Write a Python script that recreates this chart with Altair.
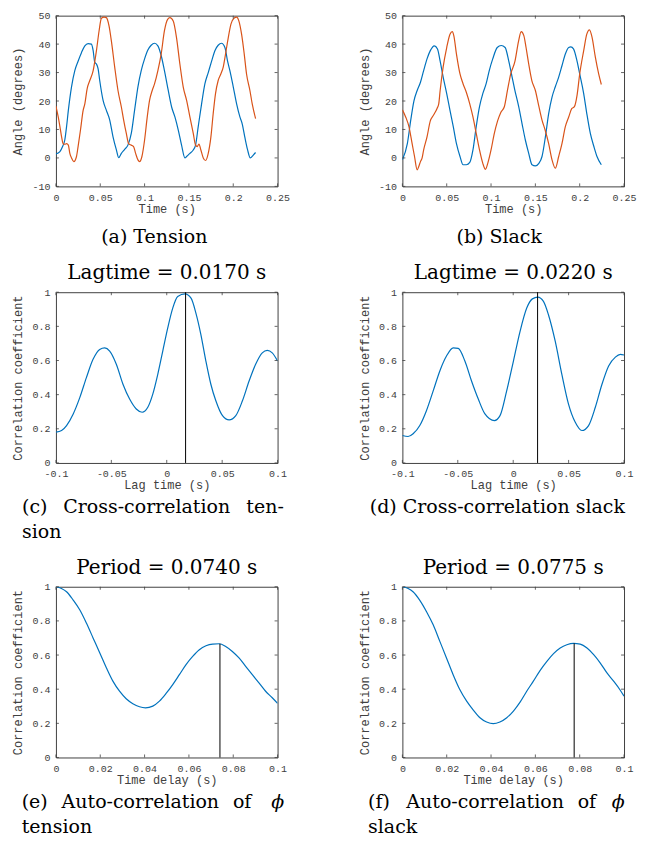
import altair as alt
import pandas as pd

W, H = 222, 171
BLUE = "#0072BD"
ORANGE = "#D95319"
AXIS_FONT = "Liberation Mono"
TEXT_FONT = "DejaVu Serif"
AXIS_COLOR = "#404040"

# ---------------- data ----------------
TENSION_PHI = [(0.0, 1.4), (0.0045, 2.2), (0.0075, 4), (0.010, 6.3), (0.012, 11), (0.014, 16.7),
               (0.0176, 25), (0.0213, 30.7), (0.025, 34), (0.0288, 37), (0.0326, 39.4), (0.0363, 40.2),
               (0.040, 40), (0.042, 37.7), (0.0438, 33.6), (0.0457, 33), (0.0476, 31.3), (0.0494, 27.2),
               (0.0532, 20.2), (0.0569, 16.7), (0.0607, 13.3), (0.0644, 7.4), (0.0682, 2.8), (0.0708, 0.1),
               (0.0738, 1.6), (0.0775, 3), (0.0812, 4.5), (0.085, 8.6), (0.0887, 16.7), (0.0925, 25),
               (0.0962, 30.7), (0.1, 34.8), (0.1037, 37.9), (0.1074, 39.6), (0.1112, 40.3), (0.115, 39.4),
               (0.1187, 36), (0.1224, 30.7), (0.1267, 23.7), (0.1305, 17.9), (0.1342, 14.4), (0.138, 9.8),
               (0.1417, 4.5), (0.1455, 0), (0.1474, 0.5), (0.1511, 1.6), (0.1549, 2.8), (0.1575, 4.5),
               (0.1605, 11), (0.1643, 19), (0.168, 26), (0.1718, 30), (0.1756, 34), (0.1793, 37.7),
               (0.183, 39.6), (0.1868, 40.3), (0.1906, 38.8), (0.1936, 34), (0.1962, 30.7), (0.2, 25),
               (0.2038, 19), (0.2075, 14.4), (0.2101, 12), (0.213, 7.4), (0.2162, 2.8), (0.2192, 0),
               (0.2226, 1), (0.2252, 1.9)]
TENSION_THETA = [(0.0, 18.2), (0.0026, 14.4), (0.0045, 11), (0.0064, 7.4), (0.0082, 5), (0.010, 4.8),
                 (0.012, 5), (0.014, 4.5), (0.0157, 1.6), (0.0176, 0), (0.0202, -1.3), (0.0232, 0.5),
                 (0.025, 4), (0.0277, 9.8), (0.0307, 16.7), (0.0326, 19), (0.0352, 24.3), (0.0382, 27.2),
                 (0.042, 30.7), (0.0457, 37.7), (0.0487, 44.7), (0.0513, 49.1), (0.0543, 49.5),
                 (0.0569, 49.3), (0.0599, 46.4), (0.0625, 41.2), (0.0663, 31.9), (0.07, 23.7),
                 (0.0738, 17.9), (0.0764, 13.3), (0.0794, 8.6), (0.082, 5), (0.085, 4.5), (0.0876, 4),
                 (0.0899, 1.6), (0.0925, -0.7), (0.0944, -1.3), (0.097, 0.5), (0.1, 6.3), (0.103, 14.4),
                 (0.1056, 20.2), (0.1086, 23.7), (0.1112, 26), (0.115, 30.7), (0.1187, 36.5),
                 (0.1224, 44.7), (0.126, 48.7), (0.1286, 49.3), (0.1323, 48.1), (0.136, 42.3),
                 (0.1398, 33), (0.1436, 24.9), (0.1474, 20.2), (0.1511, 14.4), (0.1549, 8.6),
                 (0.1575, 4.5), (0.1594, 4), (0.1613, 4.9), (0.1635, 2.8), (0.1662, 0), (0.1688, -0.9),
                 (0.1718, 1.6), (0.1748, 7.4), (0.1774, 15.6), (0.18, 22.6), (0.183, 27.2), (0.186, 29.5),
                 (0.1887, 31.9), (0.1913, 36.5), (0.1944, 42.3), (0.1974, 47), (0.2008, 49.1),
                 (0.2038, 49.5), (0.2064, 48.1), (0.2094, 43.5), (0.2124, 36.5), (0.215, 29.5),
                 (0.2188, 23.7), (0.2214, 19), (0.2252, 13.8)]
SLACK_PHI = [(0.0, -0.6), (0.0056, 5), (0.0093, 13), (0.013, 20), (0.0167, 23.7), (0.0204, 26.6),
             (0.024, 30.7), (0.0278, 34.8), (0.0315, 37.7), (0.036, 39.4), (0.0396, 38.3), (0.0426, 34),
             (0.046, 28.4), (0.05, 22.6), (0.0537, 16.7), (0.0574, 11), (0.061, 5), (0.065, 0.5),
             (0.0685, -2.4), (0.0722, -2.4), (0.076, -1.6), (0.0796, 2.8), (0.0833, 11), (0.087, 18),
             (0.0907, 22.6), (0.0944, 26), (0.098, 30.7), (0.1019, 34.8), (0.107, 38.8), (0.1115, 39.5),
             (0.1159, 38.8), (0.12, 34), (0.1237, 28.5), (0.1267, 24), (0.1312, 18), (0.135, 12),
             (0.1387, 6.3), (0.1425, 1.6), (0.1462, -2.4), (0.15, -2.8), (0.1537, -2), (0.1575, 0.5),
             (0.1613, 7.4), (0.165, 15.6), (0.1688, 21.4), (0.1725, 25), (0.1763, 28.4), (0.18, 32.4),
             (0.1838, 36.5), (0.1876, 38.8), (0.19, 39), (0.193, 38.3), (0.197, 34), (0.2, 29.5),
             (0.2045, 22.6), (0.208, 15.6), (0.212, 8.6), (0.216, 4), (0.2195, 0.5), (0.2244, -2.4)]
SLACK_THETA = [(0.0, 16.9), (0.0037, 14.4), (0.0074, 11), (0.011, 5), (0.0137, 0.5), (0.0167, -4.2),
               (0.0185, -3), (0.0204, -1.3), (0.0222, -0.1), (0.024, 2.8), (0.0278, 7.4), (0.0315, 13),
               (0.035, 15), (0.039, 17.3), (0.041, 19), (0.0426, 23.7), (0.046, 32), (0.05, 38.8),
               (0.0537, 43.5), (0.0563, 44.4), (0.058, 43), (0.061, 36.5), (0.065, 29.5), (0.0685, 26),
               (0.0722, 23), (0.076, 19), (0.0796, 14.4), (0.0833, 8.6), (0.087, 2.8), (0.0907, -1.9),
               (0.0937, -4), (0.0963, -1.9), (0.1, 2.8), (0.1037, 8.6), (0.1074, 13), (0.111, 16),
               (0.115, 18), (0.1185, 23.7), (0.1222, 29.5), (0.127, 34), (0.131, 41), (0.134, 44.4),
               (0.137, 43), (0.1395, 38.8), (0.1425, 33), (0.146, 27.2), (0.15, 23.7), (0.1537, 18.5),
               (0.1575, 13.3), (0.161, 9.8), (0.165, 5), (0.1688, -0.7), (0.1725, -3.6), (0.1763, 0.5),
               (0.18, 5), (0.1838, 11), (0.1876, 14.4), (0.191, 17.3), (0.194, 18), (0.197, 22),
               (0.2, 29.5), (0.2045, 37.7), (0.208, 43.5), (0.211, 45), (0.214, 42.3), (0.2177, 35.3),
               (0.2214, 29.5), (0.2244, 25.8)]
XCORR_TENSION = [(-0.1, 0.18), (-0.0949, 0.19), (-0.0904, 0.219), (-0.0844, 0.287), (-0.0784, 0.384),
                 (-0.0725, 0.5), (-0.0665, 0.607), (-0.0605, 0.665), (-0.056, 0.674), (-0.0515, 0.655),
                 (-0.0455, 0.578), (-0.0395, 0.461), (-0.0335, 0.374), (-0.0275, 0.316), (-0.0222, 0.297),
                 (-0.0171, 0.326), (-0.0126, 0.403), (-0.0081, 0.519), (-0.0036, 0.655), (0.0009, 0.791),
                 (0.0054, 0.907), (0.0099, 0.975), (0.0165, 0.99), (0.0219, 0.965), (0.0263, 0.878),
                 (0.0308, 0.752), (0.0353, 0.597), (0.0398, 0.461), (0.0443, 0.364), (0.0503, 0.277),
                 (0.0563, 0.252), (0.0623, 0.277), (0.0683, 0.364), (0.0743, 0.48), (0.0802, 0.578),
                 (0.0862, 0.645), (0.0907, 0.659), (0.0952, 0.645), (0.1, 0.597)]
XCORR_SLACK = [(-0.1, 0.161), (-0.0949, 0.155), (-0.0903, 0.171), (-0.0843, 0.219), (-0.0783, 0.306),
               (-0.0722, 0.422), (-0.0662, 0.539), (-0.0602, 0.626), (-0.0541, 0.674), (-0.0496, 0.671),
               (-0.0436, 0.597), (-0.0376, 0.48), (-0.0315, 0.374), (-0.0255, 0.287), (-0.017, 0.248),
               (-0.0119, 0.277), (-0.0059, 0.422), (0.0002, 0.597), (0.0062, 0.771), (0.0122, 0.907),
               (0.0173, 0.961), (0.0222, 0.971), (0.0273, 0.946), (0.0318, 0.868), (0.0379, 0.713),
               (0.0439, 0.519), (0.0499, 0.345), (0.056, 0.238), (0.062, 0.19), (0.068, 0.219),
               (0.0741, 0.326), (0.0801, 0.461), (0.0861, 0.568), (0.0922, 0.62), (0.0967, 0.636),
               (0.1, 0.632)]
ACORR_TENSION = [(0.0, 1.0), (0.0025, 0.99), (0.0048, 0.971), (0.0078, 0.922), (0.0108, 0.864),
                 (0.0138, 0.786), (0.0168, 0.699), (0.0198, 0.612), (0.0228, 0.524), (0.0257, 0.447),
                 (0.0287, 0.388), (0.0317, 0.344), (0.0347, 0.315), (0.0377, 0.297), (0.0404, 0.291),
                 (0.0437, 0.301), (0.0467, 0.33), (0.0497, 0.375), (0.0527, 0.427), (0.0557, 0.485),
                 (0.0587, 0.544), (0.0617, 0.592), (0.0647, 0.631), (0.0677, 0.654), (0.0707, 0.664),
                 (0.0737, 0.666), (0.0766, 0.65), (0.0796, 0.621), (0.0826, 0.583), (0.0856, 0.534),
                 (0.0886, 0.485), (0.0916, 0.437), (0.0946, 0.388), (0.0976, 0.35), (0.1, 0.317)]
ACORR_SLACK = [(0.0, 1.0), (0.0026, 0.99), (0.0048, 0.971), (0.0078, 0.922), (0.0109, 0.854),
               (0.0139, 0.777), (0.0169, 0.68), (0.0199, 0.583), (0.0229, 0.485), (0.0259, 0.398),
               (0.029, 0.33), (0.032, 0.278), (0.035, 0.233), (0.038, 0.208), (0.041, 0.198),
               (0.044, 0.208), (0.0471, 0.233), (0.0501, 0.272), (0.0531, 0.324), (0.0561, 0.388),
               (0.0591, 0.447), (0.0621, 0.509), (0.0652, 0.563), (0.0682, 0.608), (0.0712, 0.641),
               (0.0742, 0.66), (0.0772, 0.668), (0.0802, 0.664), (0.0833, 0.641), (0.0863, 0.602),
               (0.0893, 0.553), (0.0923, 0.495), (0.0953, 0.447), (0.0983, 0.394), (0.1, 0.359)]

# markers: (x position, bottom, top)
LAG_TENSION = (0.017, 0.0, 1.0)
LAG_SLACK = (0.022, 0.0, 1.0)
PERIOD_TENSION = (0.074, 0.0, 0.666)
PERIOD_SLACK = (0.0775, 0.0, 0.668)

TIME_TICKS = [0, 0.05, 0.1, 0.15, 0.2, 0.25]
ANGLE_TICKS = [-10, 0, 10, 20, 30, 40, 50]
LAG_TICKS = [-0.1, -0.05, 0, 0.05, 0.1]
DELAY_TICKS = [0, 0.02, 0.04, 0.06, 0.08, 0.1]
CORR_TICKS = [0, 0.2, 0.4, 0.6, 0.8, 1]

TITLES = ["Lagtime = 0.0170 s", "Lagtime = 0.0220 s", "Period = 0.0740 s", "Period = 0.0775 s"]


def make_axis(values, title, is_x):
    common = dict(values=values, title=title, labelExpr="'' + datum.value", ticks=False,
                  domain=False, grid=False, labelFlush=False, labelOverlap=False,
                  labelFont=AXIS_FONT, labelFontSize=10, labelColor=AXIS_COLOR,
                  titleFont=AXIS_FONT, titleFontSize=12, titleColor=AXIS_COLOR,
                  titleFontWeight="normal", titleBaseline="alphabetic", titleAlign="center")
    if is_x:
        return alt.Axis(titleX=W / 2, titleY=26, labelPadding=6, **common)
    return alt.Axis(titleX=-34, titleY=H / 2, titleAngle=270, labelPadding=6, **common)


def text_layer(label, x, y, size, align="left", italic=False):
    kw = dict(align=align, baseline="alphabetic", font=TEXT_FONT, fontSize=size, color="black")
    if italic:
        kw["fontStyle"] = "italic"
    return alt.Chart(pd.DataFrame({"label": [label]})).mark_text(**kw).encode(
        text="label:N", x=alt.value(x), y=alt.value(y))


def panel(series, xdom, ydom, xticks, yticks, xtitle, ytitle, marker=None, texts=()):
    xs = alt.Scale(domain=xdom, nice=False, zero=False)
    ys = alt.Scale(domain=ydom, nice=False, zero=False)
    xa = make_axis(xticks, xtitle, True)
    ya = make_axis(yticks, ytitle, False)
    layers = []
    for pairs, color in series:
        df = pd.DataFrame(pairs, columns=["x", "y"])
        layers.append(alt.Chart(df).mark_line(color=color, strokeWidth=1.2, interpolate="monotone",
                                              clip=True).encode(
            x=alt.X("x:Q", scale=xs, axis=xa), y=alt.Y("y:Q", scale=ys, axis=ya)))
    if marker is not None:
        mdf = pd.DataFrame({"x": [marker[0]], "y": [marker[1]], "y2": [marker[2]]})
        layers.append(alt.Chart(mdf).mark_rule(color="black", strokeWidth=1).encode(
            x=alt.X("x:Q", scale=xs, axis=xa), y=alt.Y("y:Q", scale=ys, axis=ya), y2="y2:Q"))
    xt = pd.DataFrame({"x": xticks})
    yt = pd.DataFrame({"y": yticks})
    tick = dict(color=AXIS_COLOR, strokeWidth=0.8)
    layers.append(alt.Chart(xt).mark_rule(**tick).encode(
        x=alt.X("x:Q", scale=xs, axis=xa), y=alt.value(H), y2=alt.value(H - 3)))
    layers.append(alt.Chart(xt).mark_rule(**tick).encode(
        x=alt.X("x:Q", scale=xs, axis=xa), y=alt.value(0), y2=alt.value(3)))
    layers.append(alt.Chart(yt).mark_rule(**tick).encode(
        y=alt.Y("y:Q", scale=ys, axis=ya), x=alt.value(0), x2=alt.value(3)))
    layers.append(alt.Chart(yt).mark_rule(**tick).encode(
        y=alt.Y("y:Q", scale=ys, axis=ya), x=alt.value(W), x2=alt.value(W - 3)))
    for t in texts:
        layers.append(text_layer(*t))
    return alt.layer(*layers).properties(width=W, height=H)


CAP = 19
TIT = 20
pa = panel([(TENSION_PHI, BLUE), (TENSION_THETA, ORANGE)], [0, 0.25], [-10, 50], TIME_TICKS,
           ANGLE_TICKS, "Time (s)", "Angle (degrees)",
           texts=[("(a) Tension", 98.5, H + 56.7, CAP, "center")])
pb = panel([(SLACK_PHI, BLUE), (SLACK_THETA, ORANGE)], [0, 0.25], [-10, 50], TIME_TICKS,
           ANGLE_TICKS, "Time (s)", "Angle (degrees)",
           texts=[("(b) Slack", 97, H + 56.7, CAP, "center")])
pc = panel([(XCORR_TENSION, BLUE)], [-0.1, 0.1], [0, 1], LAG_TICKS, CORR_TICKS,
           "Lag time (s)", "Correlation coefficient", marker=LAG_TENSION,
           texts=[(TITLES[0], W / 2, -13, TIT, "center"),
                  ("(c)", -34, H + 50, CAP), ("Cross-correlation", 7.3, H + 50, CAP),
                  ("ten-", 190.7, H + 50, CAP), ("sion", -34, H + 75, CAP)])
pd_ = panel([(XCORR_SLACK, BLUE)], [-0.1, 0.1], [0, 1], LAG_TICKS, CORR_TICKS,
            "Lag time (s)", "Correlation coefficient", marker=LAG_SLACK,
            texts=[(TITLES[1], W / 2, -13, TIT, "center"),
                   ("(d) Cross-correlation slack", -32.7, H + 50, CAP)])
pe = panel([(ACORR_TENSION, BLUE)], [0, 0.1], [0, 1], DELAY_TICKS, CORR_TICKS,
           "Time delay (s)", "Correlation coefficient", marker=PERIOD_TENSION,
           texts=[(TITLES[2], W / 2, -13, TIT, "center"),
                  ("(e)", -34.3, H + 51, CAP), ("Auto-correlation", 5.7, H + 51, CAP),
                  ("of", 177.3, H + 51, CAP), ("ϕ", 215.7, H + 51, CAP, "left", True),
                  ("tension", -34.3, H + 76, CAP)])
pf = panel([(ACORR_SLACK, BLUE)], [0, 0.1], [0, 1], DELAY_TICKS, CORR_TICKS,
           "Time delay (s)", "Correlation coefficient", marker=PERIOD_SLACK,
           texts=[(TITLES[3], W / 2, -13, TIT, "center"),
                  ("(f)", -34.4, H + 51, CAP), ("Auto-correlation", 4, H + 51, CAP),
                  ("of", 175.6, H + 51, CAP), ("ϕ", 209.6, H + 51, CAP, "left", True),
                  ("slack", -34.4, H + 76, CAP)])

chart = alt.concat(pa, pb, pc, pd_, pe, pf, columns=2, spacing={"row": 14, "column": 67},
                   align="each").properties(
    padding={"left": 3, "top": 1, "right": 5, "bottom": 5}
).configure_view(stroke=AXIS_COLOR, strokeWidth=1)

chart.save("out.html", embed_options={"renderer": "svg", "actions": False})
